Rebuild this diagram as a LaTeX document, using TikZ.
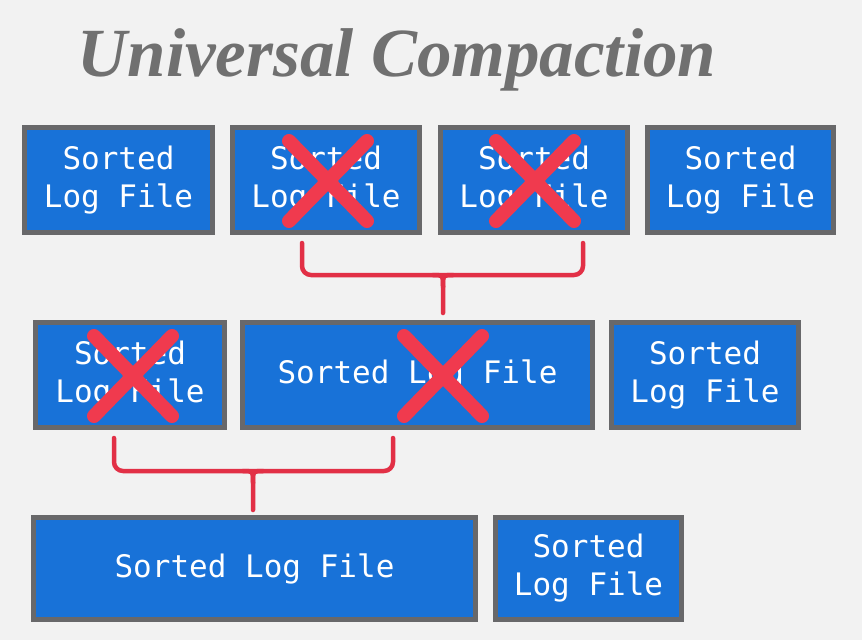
\documentclass[tikz,border=0pt]{standalone}
\usepackage{fontspec}
\usetikzlibrary{calc}
\setmainfont{Liberation Serif}
\newfontfamily\boxfont{DejaVu Sans Mono}
\definecolor{bgc}{RGB}{242,242,242}
\definecolor{boxblue}{RGB}{24,114,216}
\definecolor{boxgray}{RGB}{104,104,106}
\definecolor{xred}{RGB}{240,58,78}
\definecolor{brred}{RGB}{226,48,70}
\definecolor{titlegray}{RGB}{112,112,112}
\tikzset{
  logbox/.style={draw=boxgray, line width=5pt, fill=boxblue, text=white,
    inner sep=0pt, font=\boxfont\fontsize{31}{38}\selectfont, align=center},
  crossline/.style={draw=xred, line width=14pt, line cap=round},
  bracketline/.style={draw=brred, line width=4.5pt, line cap=round, line join=round},
}
\begin{document}
\begin{tikzpicture}[x=1pt,y=-1pt]
\fill[bgc] (0,0) rectangle (862,640);
\useasboundingbox (0,0) rectangle (862,640);
\node[anchor=base, text=titlegray, font=\fontsize{69}{76}\selectfont\bfseries\itshape] (title) at (397,76) {Universal Compaction};
% row 1
\node[logbox, minimum width=188pt, minimum height=105pt] (r1a) at (118.5,180) {Sorted\\Log File};
\node[logbox, minimum width=187pt, minimum height=105pt] (r1b) at (326,180) {Sorted\\Log File};
\node[logbox, minimum width=187pt, minimum height=105pt] (r1c) at (534,180) {Sorted\\Log File};
\node[logbox, minimum width=186pt, minimum height=105pt] (r1d) at (740.5,180) {Sorted\\Log File};
% row 2
\node[logbox, minimum width=189pt, minimum height=105pt] (r2a) at (130,375) {Sorted\\Log File};
\node[logbox, minimum width=350pt, minimum height=105pt] (r2b) at (417.5,375) {Sorted Log File};
\node[logbox, minimum width=187pt, minimum height=105pt] (r2c) at (705,375) {Sorted\\Log File};
% row 3
\node[logbox, minimum width=442pt, minimum height=102pt] (r3a) at (254.5,568.5) {Sorted Log File};
\node[logbox, minimum width=186pt, minimum height=102pt] (r3b) at (588.5,568.5) {Sorted\\Log File};
% crosses
\foreach \n/\cx/\cy in {xa/328/181, xb/535/181, xc/133/376, xd/443/376}{
  \coordinate (\n) at (\cx,\cy);
  \draw[crossline] ($(\n)+(-39,-40)$) -- ($(\n)+(39,40)$);
  \draw[crossline] ($(\n)+(39,-40)$) -- ($(\n)+(-39,40)$);
}
% bracket 1
\coordinate (k1l) at (302,243);
\coordinate (k1r) at (583,243);
\coordinate (k1m) at (443,313);
\draw[bracketline, rounded corners=9pt] (k1l) -- (302,275) -- (583,275) -- (k1r);
\draw[bracketline] (433,275) .. controls (443,275) .. (443,287) -- (k1m);
\draw[bracketline] (453,275) .. controls (443,275) .. (443,287);
% bracket 2
\coordinate (k2l) at (114,438);
\coordinate (k2r) at (393,438);
\coordinate (k2m) at (253,510);
\draw[bracketline, rounded corners=9pt] (k2l) -- (114,471) -- (393,471) -- (k2r);
\draw[bracketline] (243,471) .. controls (253,471) .. (253,483) -- (k2m);
\draw[bracketline] (263,471) .. controls (253,471) .. (253,483);
\end{tikzpicture}
\end{document}
